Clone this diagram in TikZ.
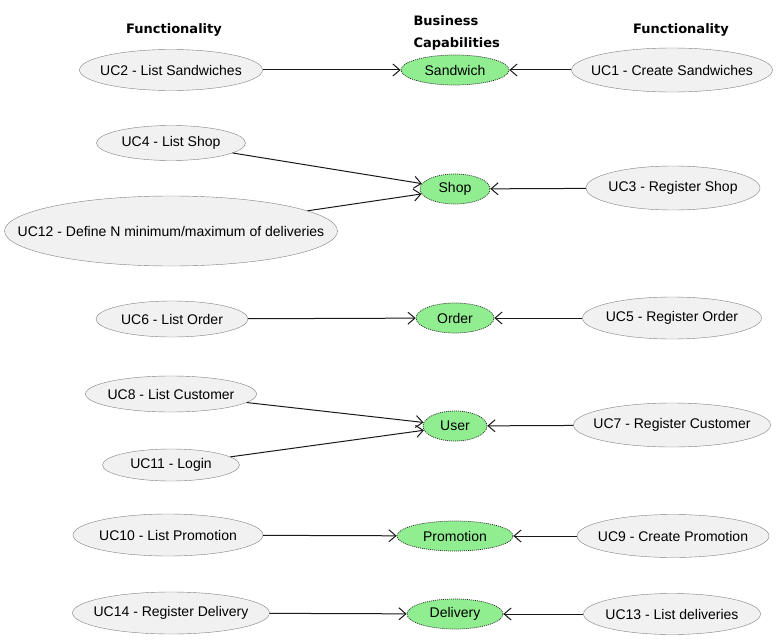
\documentclass[tikz,border=0pt]{standalone}
\usepackage{fontspec}
\setmainfont{Liberation Sans}
\newfontfamily\headfont{DejaVu Sans}
\usetikzlibrary{shapes.geometric,arrows.meta}
\definecolor{ucgray}{RGB}{241,241,241}
\definecolor{capgreen}{RGB}{144,238,144}

\begin{document}
\begin{tikzpicture}[x=1pt,y=-1pt,
        uc/.style={ellipse,draw=black!50,fill=ucgray,inner sep=0pt,label={[font=\fontsize{14}{16}\selectfont]center:#1}},
        capability/.style={ellipse,draw=black!85,line width=0.7pt,dash pattern=on 1pt off 1pt,fill=capgreen,inner sep=0pt,minimum height=30pt,label={[font=\fontsize{14}{16}\selectfont]center:#1}},
        head/.style={font=\headfont\bfseries\fontsize{13}{22}\selectfont},
        link/.style={-{Straight Barb[length=7pt,width=12pt]},line width=1pt,draw=black!90}]
        \useasboundingbox (0,0) rectangle (779,642);

        % Headers
        \node[head] (hleft) at (174,30) {Functionality};
        \node[head,align=left,anchor=west] (hmid) at (410,33) {Business\\Capabilities};
        \node[head] (hright) at (681,30) {Functionality};

        % Business capabilities
        \node[capability=Sandwich,minimum width=108pt] (sandwich) at (455,70) {};
        \node[capability=Shop,minimum width=70pt] (shop) at (455,189) {};
        \node[capability=Order,minimum width=78pt] (order) at (455,318) {};
        \node[capability=User,minimum width=64pt] (user) at (455,426) {};
        \node[capability=Promotion,minimum width=116pt] (promotion) at (455,536) {};
        \node[capability=Delivery,minimum width=96pt] (delivery) at (455,614) {};

        % Functionality, left side
        \node[uc={UC2 - List Sandwiches},minimum width=183pt,minimum height=41pt] (uc2) at (171,70) {};
        \node[uc={UC4 - List Shop},minimum width=149pt,minimum height=35pt] (uc4) at (171,143) {};
        \node[uc={UC12 - Define N minimum/maximum of deliveries},minimum width=333pt,minimum height=70pt] (uc12) at (171,231) {};
        \node[uc={UC6 - List Order},minimum width=152pt,minimum height=36pt] (uc6) at (172,319) {};
        \node[uc={UC8 - List Customer},minimum width=171pt,minimum height=36pt] (uc8) at (171,394) {};
        \node[uc={UC11 - Login},minimum width=137pt,minimum height=32pt] (uc11) at (171,465) {};
        \node[uc={UC10 - List Promotion},minimum width=190pt,minimum height=42pt] (uc10) at (168,535) {};
        \node[uc={UC14 - Register Delivery},minimum width=197pt,minimum height=42pt] (uc14) at (171,613) {};

        % Functionality, right side
        \node[uc={UC1 - Create Sandwiches},minimum width=201pt,minimum height=44pt] (uc1) at (672,70) {};
        \node[uc={UC3 - Register Shop},minimum width=174pt,minimum height=44pt] (uc3) at (673,188) {};
        \node[uc={UC5 - Register Order},minimum width=179pt,minimum height=42pt] (uc5) at (672,318) {};
        \node[uc={UC7 - Register Customer},minimum width=197pt,minimum height=44pt] (uc7) at (672,425) {};
        \node[uc={UC9 - Create Promotion},minimum width=192pt,minimum height=43pt] (uc9) at (673,536) {};
        \node[uc={UC13 - List deliveries},minimum width=177pt,minimum height=41pt] (uc13) at (672,614) {};

        % Links
        \draw[link] (uc2) -- (sandwich);
        \draw[link] (uc1) -- (sandwich);
        \draw[link] (uc4) -- (shop);
        \draw[link] (uc12) -- (shop);
        \draw[link] (uc3) -- (shop);
        \draw[link] (uc6) -- (order);
        \draw[link] (uc5) -- (order);
        \draw[link] (uc8) -- (user);
        \draw[link] (uc11) -- (user);
        \draw[link] (uc7) -- (user);
        \draw[link] (uc10) -- (promotion);
        \draw[link] (uc9) -- (promotion);
        \draw[link] (uc14) -- (delivery);
        \draw[link] (uc13) -- (delivery);

    \end{tikzpicture}
\end{document}
